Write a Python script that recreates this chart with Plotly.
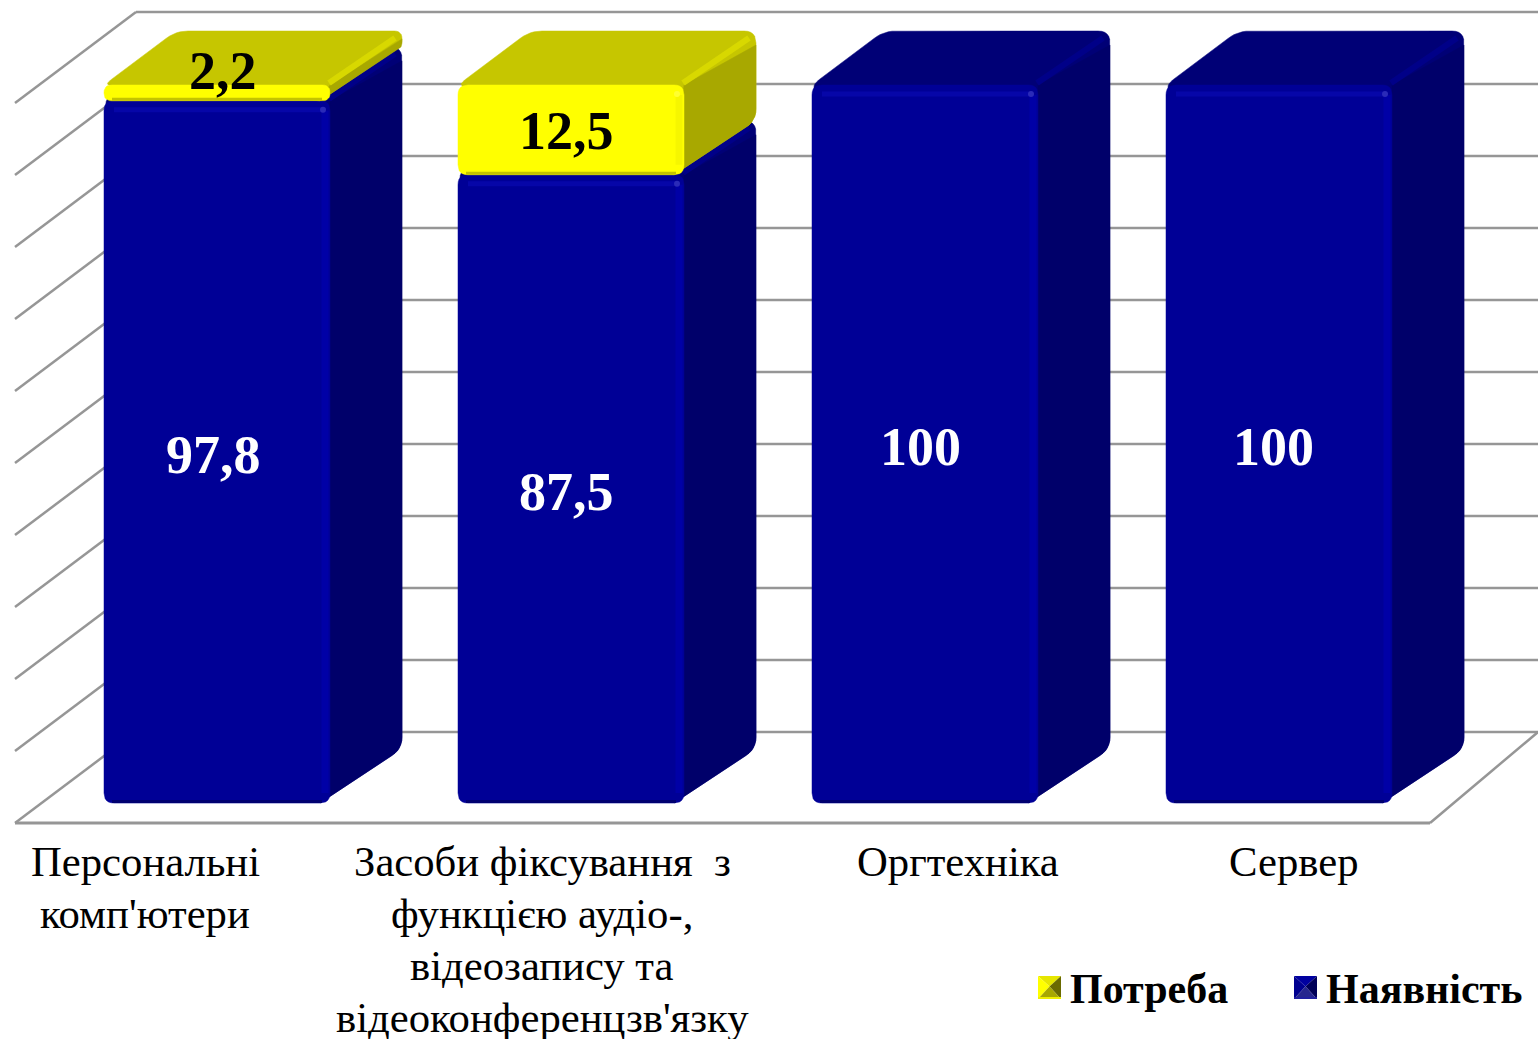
import math
import plotly.graph_objects as go

# ---- data ----
categories = ["Персональні<br>комп'ютери",
              "Засоби фіксування\u00a0 з<br>функцією аудіо-,<br>відеозапису та<br>відеоконференцзв'язку",
              "Оргтехніка", "Сервер"]
naiavnist = [97.8, 87.5, 100, 100]
potreba = [2.2, 12.5, 0, 0]
wall_ticks = [0, 10, 20, 30, 40, 50, 60, 70, 80, 90, 100]
series_names = ["Потреба", "Наявність"]

# ---- geometry / style ----
W, H = 1538, 1039
PX_X = 354.0          # pixels per category
PX_Y = 7.18           # pixels per percent
X0_PX, Y0_PX = 217.0, 803.0
xr = [(0 - X0_PX) / PX_X, (W - X0_PX) / PX_X]
yr = [(Y0_PX - H) / PX_Y, Y0_PX / PX_Y]
BAR_W = 226 / PX_X
DX, DY = 72 / PX_X, 54 / PX_Y
FONT = "Liberation Serif"
BLUE = dict(front="#000096", side="#00006a", top="#000076", bevel="#000088",
            hi_top="#0606a8", hi_right="#0000a6", dot="#2a2ab8", lo="#000070")
YEL = dict(front="#ffff00", side="#a8a800", top="#c6c600", bevel="#d8d800",
           hi_top="#ffff00", hi_right="#f6f600", dot="#ffff30", lo="#c4c400")
GRID = "#969696"


def fx(p):
    return p / PX_X


def fy(p):
    return p / PX_Y


def rounded(verts, radii, steps=6):
    """Closed polygon (data coordinates) with each corner rounded by a pixel radius."""
    out_x, out_y = [], []
    n = len(verts)
    px = [(x * PX_X, y * PX_Y) for x, y in verts]
    for k in range(n):
        p0, p1, p2 = px[k - 1], px[k], px[(k + 1) % n]
        a = (p0[0] - p1[0], p0[1] - p1[1])
        b = (p2[0] - p1[0], p2[1] - p1[1])
        la, lb = math.hypot(*a), math.hypot(*b)
        r = min(radii[k], la * 0.49, lb * 0.49)
        if r <= 0:
            out_x.append(p1[0] / PX_X)
            out_y.append(p1[1] / PX_Y)
            continue
        s = (p1[0] + a[0] / la * r, p1[1] + a[1] / la * r)
        e = (p1[0] + b[0] / lb * r, p1[1] + b[1] / lb * r)
        for j in range(steps + 1):
            u = j / steps
            qx = (1 - u) ** 2 * s[0] + 2 * u * (1 - u) * p1[0] + u ** 2 * e[0]
            qy = (1 - u) ** 2 * s[1] + 2 * u * (1 - u) * p1[1] + u ** 2 * e[1]
            out_x.append(qx / PX_X)
            out_y.append(qy / PX_Y)
    return out_x + out_x[:1], out_y + out_y[:1]


def poly(verts, radii, color):
    xs, ys = rounded(verts, radii)
    return go.Scatter(x=xs, y=ys, mode="lines", fill="toself", fillcolor=color,
                      line=dict(color=color, width=0.5),
                      hoverinfo="skip", showlegend=False)


def seg(x, y, color, lw):
    return go.Scatter(x=x, y=y, mode="lines", line=dict(color=color, width=lw),
                      hoverinfo="skip", showlegend=False)


fig = go.Figure()
idx = list(range(len(categories)))

# true stacked bars (narrowed so the rounded faces drawn over them define the silhouette)
fig.add_trace(go.Bar(x=idx, y=naiavnist, name=series_names[1], marker_color=BLUE["front"],
                     width=BAR_W - 2 * fx(10), showlegend=False, hoverinfo="skip"))
fig.add_trace(go.Bar(x=idx, y=potreba, name=series_names[0], marker_color=YEL["front"],
                     width=BAR_W - 2 * fx(10), showlegend=False, hoverinfo="skip"))


def box(i, b, t, c):
    l, r = i - BAR_W / 2, i + BAR_W / 2
    h = (t - b) * PX_Y
    # top face + corner: the whole outline behind the front, in the top colour
    fig.add_trace(poly([(l, t), (r - fx(10), b), (r + DX, b + DY), (r + DX, t + DY), (l + DX, t + DY)],
                       [8, 0, 12, 12, 12], c["top"]))
    # side face, its upper edge running diagonally below the corner
    cut = min(14, h * 0.5)
    fig.add_trace(poly([(r - fx(10), b), (r + DX, b + DY), (r + DX, t + DY - fy(cut)), (r, t)],
                       [0, 12, 0, 0], c["side"]))
    # bevel between top and side faces
    fig.add_trace(seg([r - fx(1), r + DX - fx(7)], [t + fy(2), t + DY - fy(7)], c["bevel"], 6))
    # front face
    fig.add_trace(poly([(l, b), (r, b), (r, t), (l, t)], [10, 10, 10, 10], c["front"]))
    if h > 30:
        fig.add_trace(seg([l + fx(10), r - fx(9)], [t - fy(9), t - fy(9)], c["hi_top"], 5))
        fig.add_trace(seg([r - fx(5), r - fx(5)], [t - fy(10), b + fy(10)], c["hi_right"], 7))
        fig.add_trace(go.Scatter(x=[r - fx(7)], y=[t - fy(9)], mode="markers",
                                 marker=dict(color=c["dot"], size=6), hoverinfo="skip", showlegend=False))
    fig.add_trace(seg([l + fx(8), r - fx(8)], [b + fy(1.5), b + fy(1.5)], c["lo"], 3))


for i in idx:
    box(i, 0, naiavnist[i], BLUE)
    if potreba[i] > 0:
        box(i, naiavnist[i], naiavnist[i] + potreba[i], YEL)

# walls and floor, below the traces
WALL = 7.2 / PX_Y
XL, XB, XE, XF = fx(15) - X0_PX / PX_X, fx(136) - X0_PX / PX_X, xr[1], fx(1430) - X0_PX / PX_X
FRONT_BASE, BACK_BASE = -20 / PX_Y, 71 / PX_Y
shapes = []


def line(x0, y0, x1, y1, w=2.5):
    shapes.append(dict(type="line", xref="x", yref="y", x0=x0, y0=y0, x1=x1, y1=y1,
                       layer="below", line=dict(color=GRID, width=w)))


for v in wall_ticks:
    line(XL, FRONT_BASE + WALL * v, XB, BACK_BASE + WALL * v)
    line(XB, BACK_BASE + WALL * v, XE, BACK_BASE + WALL * v)
line(XL, FRONT_BASE, XF, FRONT_BASE, 3)
line(XF, FRONT_BASE, XE, BACK_BASE)


# legend swatches: small pyramids
def tri(points, color):
    p = " L ".join(f"{x / W:.5f} {1 - y / H:.5f}" for x, y in points)
    shapes.append(dict(type="path", xref="paper", yref="paper", path=f"M {p} Z",
                       fillcolor=color, line=dict(width=0)))


def swatch(x, y, s, c_top, c_left, c_right, c_bot, c_edge):
    m = (x + s / 2, y + s / 2 - 1)
    tri([(x, y), (x + s, y), m], c_top)
    tri([(x, y), m, (x, y + s)], c_left)
    tri([(x + s, y), m, (x + s, y + s)], c_right)
    tri([(x, y + s), m, (x + s, y + s)], c_bot)
    tri([(x, y + s - 2), (x + s, y + s - 2), (x + s, y + s), (x, y + s)], c_edge)


swatch(1038, 976, 23, "#e6e600", "#ffff00", "#6a6a00", "#a8a800", "#f0f000")
swatch(1294, 976, 23, "#0000a0", "#000090", "#000058", "#26268e", "#2020a0")

# text
anns = []
label_px = [145, 542, 958, 1293]
LINE_Y = 861
LINE_PITCH = 52
for c, p in zip(categories, label_px):
    for n, part in enumerate(c.split("<br>")):
        anns.append(dict(text=part, xref="paper", yref="paper", x=p / W,
                         y=1 - (LINE_Y + n * LINE_PITCH) / H, xanchor="center",
                         yanchor="middle", showarrow=False,
                         font=dict(family=FONT, size=42.7, color="#000000")))

blue_shift = [(-4, -3), (-5, -3), (-5, -3), (-6, -3)]
yel_shift = [(6, 22), (-5, -1), (0, 0), (0, 0)]
for i in idx:
    anns.append(dict(text=str(naiavnist[i]).replace(".", ","), xref="x", yref="y", x=i,
                     y=naiavnist[i] / 2, xshift=blue_shift[i][0], yshift=blue_shift[i][1],
                     showarrow=False, font=dict(family=FONT, size=54, color="#ffffff", weight="bold")))
    if potreba[i] > 0:
        anns.append(dict(text=str(potreba[i]).replace(".", ","), xref="x", yref="y", x=i,
                         y=naiavnist[i] + potreba[i] / 2, xshift=yel_shift[i][0], yshift=yel_shift[i][1],
                         showarrow=False, font=dict(family=FONT, size=54, color="#000000", weight="bold")))

for name, p in zip(series_names, [1068, 1324]):
    anns.append(dict(text=name, xref="paper", yref="paper", x=p / W, y=1 - 989 / H, xanchor="left",
                     yanchor="middle", showarrow=False,
                     font=dict(family=FONT, size=42, color="#000000", weight="bold")))

fig.update_layout(
    width=W, height=H, margin=dict(l=0, r=0, t=0, b=0, pad=0),
    barmode="stack", paper_bgcolor="#ffffff", plot_bgcolor="#ffffff", showlegend=False,
    xaxis=dict(range=xr, visible=False, fixedrange=True),
    yaxis=dict(range=yr, visible=False, fixedrange=True),
    shapes=shapes, annotations=anns,
)
fig.write_html("out.html", config={"displayModeBar": False},
               post_script="document.body.style.margin='0';document.body.style.overflow='hidden';")
